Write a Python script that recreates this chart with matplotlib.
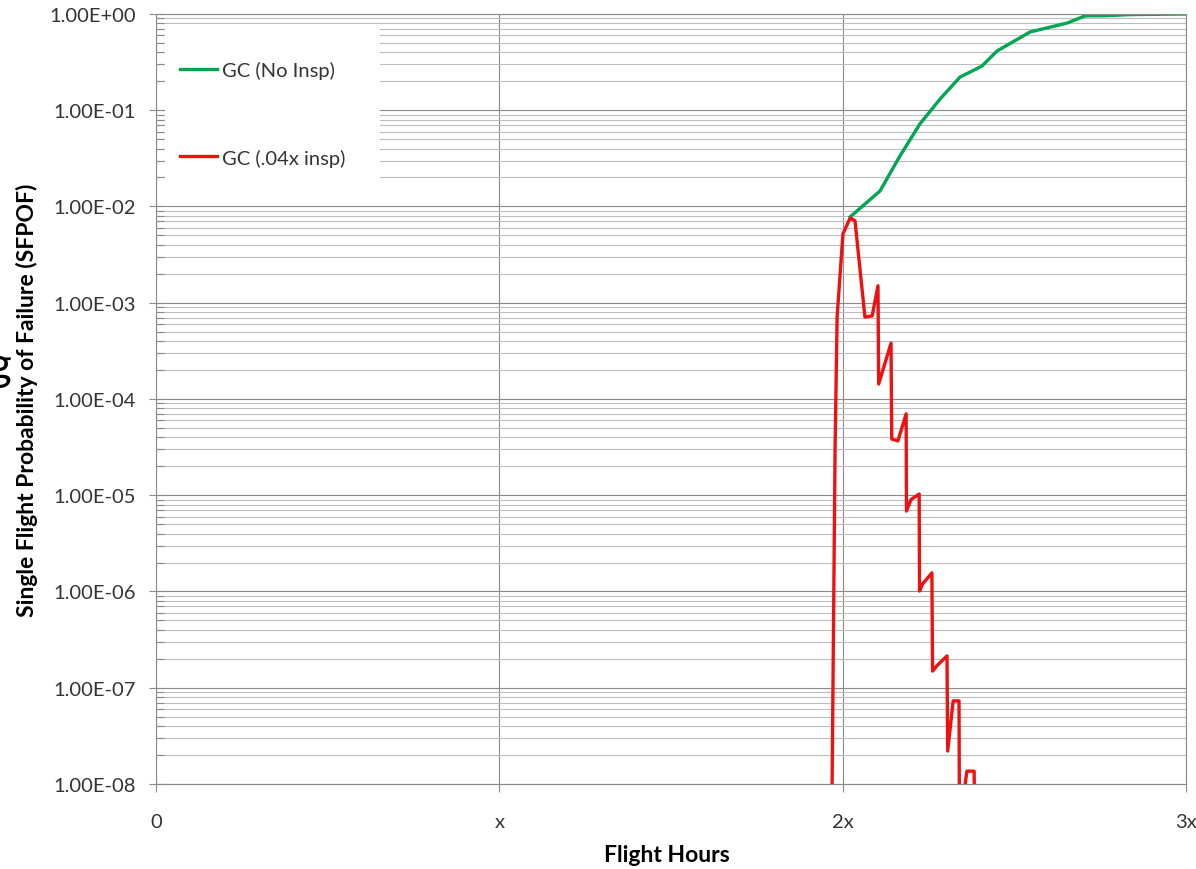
import matplotlib
matplotlib.use("Agg")
import matplotlib.pyplot as plt
from matplotlib.patches import Rectangle
from matplotlib.ticker import LogLocator, FuncFormatter, NullFormatter

# flight hours in multiples of x, SFPOF values
gc_no_insp_hours = [2.022, 2.109, 2.167, 2.225, 2.284, 2.342, 2.406, 2.45, 2.546, 2.654,
                    2.706, 2.77, 2.837, 3.0]
gc_no_insp_pof = [7.8e-3, 1.45e-2, 3.35e-2, 7.2e-2, 1.31e-1, 2.21e-1, 2.88e-1, 4.13e-1,
                  6.5e-1, 8.05e-1, 9.55e-1, 9.6e-1, 9.85e-1, 1.0]

gc_insp_hours = [1.969, 1.978, 1.984, 2.001, 2.022, 2.036, 2.065, 2.086, 2.103, 2.105,
                 2.141, 2.143, 2.161, 2.185, 2.186, 2.199, 2.223, 2.224, 2.233, 2.260,
                 2.262, 2.275, 2.304, 2.306, 2.322, 2.339, 2.340, 2.351, 2.362, 2.383, 2.384]
gc_insp_pof = [6.9e-9, 3.0e-5, 7.2e-4, 5.2e-3, 7.6e-3, 7.1e-3, 7.1e-4, 7.3e-4, 1.5e-3, 1.43e-4,
               3.8e-4, 3.84e-5, 3.67e-5, 7.0e-5, 6.85e-6, 9.0e-6, 1.03e-5, 1.01e-6, 1.2e-6, 1.56e-6,
               1.49e-7, 1.7e-7, 2.14e-7, 2.2e-8, 7.3e-8, 7.3e-8, 7.0e-9, 7.0e-9, 1.36e-8, 1.36e-8, 6.9e-9]

x_ticks = [0, 1, 2, 3]
x_tick_labels = ["0", "x", "2x", "3x"]

plt.rcParams["font.family"] = ["Lato", "DejaVu Sans"]

fig = plt.figure(figsize=(11.96, 8.70), dpi=100)
ax = fig.add_axes([0.1304, 0.0977, 0.8612, 0.8851])

ax.plot(gc_no_insp_hours, gc_no_insp_pof, color="#00A651", linewidth=2.4, label="GC (No Insp)")
ax.plot(gc_insp_hours, gc_insp_pof, color="#EE1111", linewidth=2.4, label="GC (.04x insp)")

ax.set_yscale("log")
ax.set_ylim(1e-8, 1)
ax.set_xlim(0, 3)

ax.yaxis.set_major_locator(LogLocator(base=10, numticks=20))
ax.yaxis.set_minor_locator(LogLocator(base=10, subs=range(2, 10), numticks=20))
ax.yaxis.set_major_formatter(FuncFormatter(lambda v, p: f"{v:.2E}"))
ax.yaxis.set_minor_formatter(NullFormatter())
ax.set_xticks(x_ticks)
ax.set_xticklabels(x_tick_labels)

ax.grid(True, which="major", axis="y", color="#8a8a8a", linewidth=0.8)
ax.grid(True, which="minor", axis="y", color="#bdbdbd", linewidth=0.8)
ax.grid(True, which="major", axis="x", color="#8a8a8a", linewidth=0.8)
ax.set_axisbelow(True)

for side in ax.spines.values():
    side.set_color("#8a8a8a")
    side.set_linewidth(0.8)

ax.tick_params(axis="y", which="major", direction="inout", length=10, width=0.8,
               color="#8a8a8a", labelsize=14.5, pad=9.5, labelcolor="#333333")
ax.tick_params(axis="y", which="minor", direction="in", length=6, width=0.8, color="#8a8a8a")
ax.tick_params(axis="x", which="major", direction="out", length=6, width=0.8,
               color="#8a8a8a", labelsize=14.5, pad=15, labelcolor="#333333")

ax.set_ylabel("Single Flight Probability of Failure (SFPOF)", fontsize=16.5, fontweight="bold")
ax.yaxis.set_label_coords(-0.115, 0.5)
ax.set_xlabel("Flight Hours", fontsize=16.5, fontweight="bold")
ax.xaxis.set_label_coords(0.496, -0.078)

# white block behind the legend hides the gridlines
ax.add_patch(Rectangle((0.0087, 0.766), 0.209, 0.221, transform=ax.transAxes,
                       facecolor="white", edgecolor="none", zorder=1))

leg = ax.legend(loc="upper left", bbox_to_anchor=(0.0233, 0.939), fontsize=14.5, frameon=False,
                borderpad=0, borderaxespad=0, labelspacing=3.45, handlelength=1.85,
                handletextpad=0.25)
for t in leg.get_texts():
    t.set_color("#333333")

# stray letter clipped at the left edge
fig.text(0.0095, 1 - 380 / 870, "g", fontsize=33, ha="right", va="baseline", color="black")

fig.savefig("out.png", dpi=100)
plt.close(fig)
